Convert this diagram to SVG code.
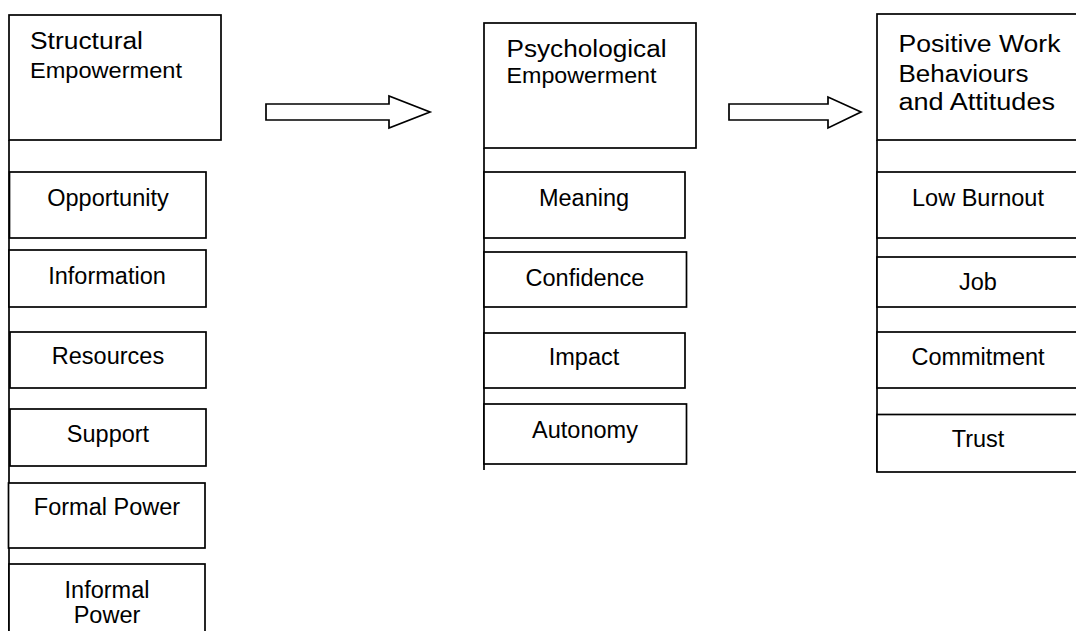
<svg xmlns="http://www.w3.org/2000/svg" width="1076" height="631" viewBox="0 0 1076 631">
<style>
.b{fill:#fff;stroke:#000;stroke-width:1.7}
.l{fill:none;stroke:#000;stroke-width:1.7}
.t{font-family:"Liberation Sans",Arial,sans-serif;font-size:23.5px;fill:#000;text-anchor:middle}
.h{font-family:"Liberation Sans",Arial,sans-serif;font-size:23.5px;fill:#000}
.h2{font-family:"Liberation Sans",Arial,sans-serif;font-size:21.5px;fill:#000}
</style>
<rect width="1076" height="631" fill="#fff"/>
<g id="connectors">
<path class="b" d="M266,104 H389 V96 L430,112 L389,128 V120 H266 Z"/>
<path class="b" d="M729,104 H828 V97 L861,112 L828,128 V120 H729 Z"/>
</g>
<g id="col1-line"><path class="l" d="M9,140 V631"/></g>
<g id="structural"><rect class="b" x="9" y="15" width="212" height="125"/><text class="h" x="30" y="49" textLength="113" lengthAdjust="spacingAndGlyphs">Structural</text><text class="h2" x="30" y="77.5" textLength="152" lengthAdjust="spacingAndGlyphs">Empowerment</text></g>
<g id="opportunity"><rect class="b" x="9.5" y="172" width="196.5" height="66"/><text class="t" x="108" y="205.5">Opportunity</text></g>
<g id="information"><rect class="b" x="9" y="250" width="197" height="57"/><text class="t" x="107" y="284">Information</text></g>
<g id="resources"><rect class="b" x="10" y="332" width="196" height="56"/><text class="t" x="108" y="364">Resources</text></g>
<g id="support"><rect class="b" x="10" y="409" width="196" height="57"/><text class="t" x="108" y="442">Support</text></g>
<g id="formal-power"><rect class="b" x="8.5" y="483" width="196.5" height="65"/><text class="t" x="107" y="515">Formal Power</text></g>
<g id="informal-power"><rect class="b" x="9" y="564" width="196" height="80"/><text class="t" x="107" y="598">Informal</text><text class="t" x="107" y="623">Power</text></g>

<g id="col2-line"><path class="l" d="M484,148 V470"/></g>
<g id="psychological"><rect class="b" x="484" y="23" width="212" height="125"/><text class="h" x="506.5" y="57" textLength="160" lengthAdjust="spacingAndGlyphs">Psychological</text><text class="h2" x="506.5" y="82.5" textLength="150" lengthAdjust="spacingAndGlyphs">Empowerment</text></g>
<g id="meaning"><rect class="b" x="484" y="172" width="201" height="66"/><text class="t" x="584" y="205.5">Meaning</text></g>
<g id="confidence"><rect class="b" x="484" y="252" width="202.5" height="55"/><text class="t" x="585" y="285.5">Confidence</text></g>
<g id="impact"><rect class="b" x="484" y="333" width="201" height="55"/><text class="t" x="584" y="365">Impact</text></g>
<g id="autonomy"><rect class="b" x="484" y="404" width="202.5" height="60"/><text class="t" x="585" y="437.5">Autonomy</text></g>

<g id="col3-line"><path class="l" d="M877,140 V472"/></g>
<g id="positive"><rect class="b" x="877" y="14" width="210" height="126"/><text class="h" x="898.5" y="51.5" textLength="162" lengthAdjust="spacingAndGlyphs">Positive Work</text><text class="h" x="898.5" y="81.5" textLength="130" lengthAdjust="spacingAndGlyphs">Behaviours</text><text class="h" x="898.5" y="110" textLength="156.5" lengthAdjust="spacingAndGlyphs">and Attitudes</text></g>
<g id="low-burnout"><rect class="b" x="877" y="172" width="210" height="66"/><text class="t" x="978" y="205.5">Low Burnout</text></g>
<g id="job"><rect class="b" x="877" y="257" width="210" height="50"/><text class="t" x="978" y="289.5">Job</text></g>
<g id="commitment"><rect class="b" x="877" y="332" width="210" height="56"/><text class="t" x="978" y="365">Commitment</text></g>
<g id="trust"><rect class="b" x="877" y="414.5" width="210" height="57.5"/><text class="t" x="978" y="446.5">Trust</text></g>
</svg>
